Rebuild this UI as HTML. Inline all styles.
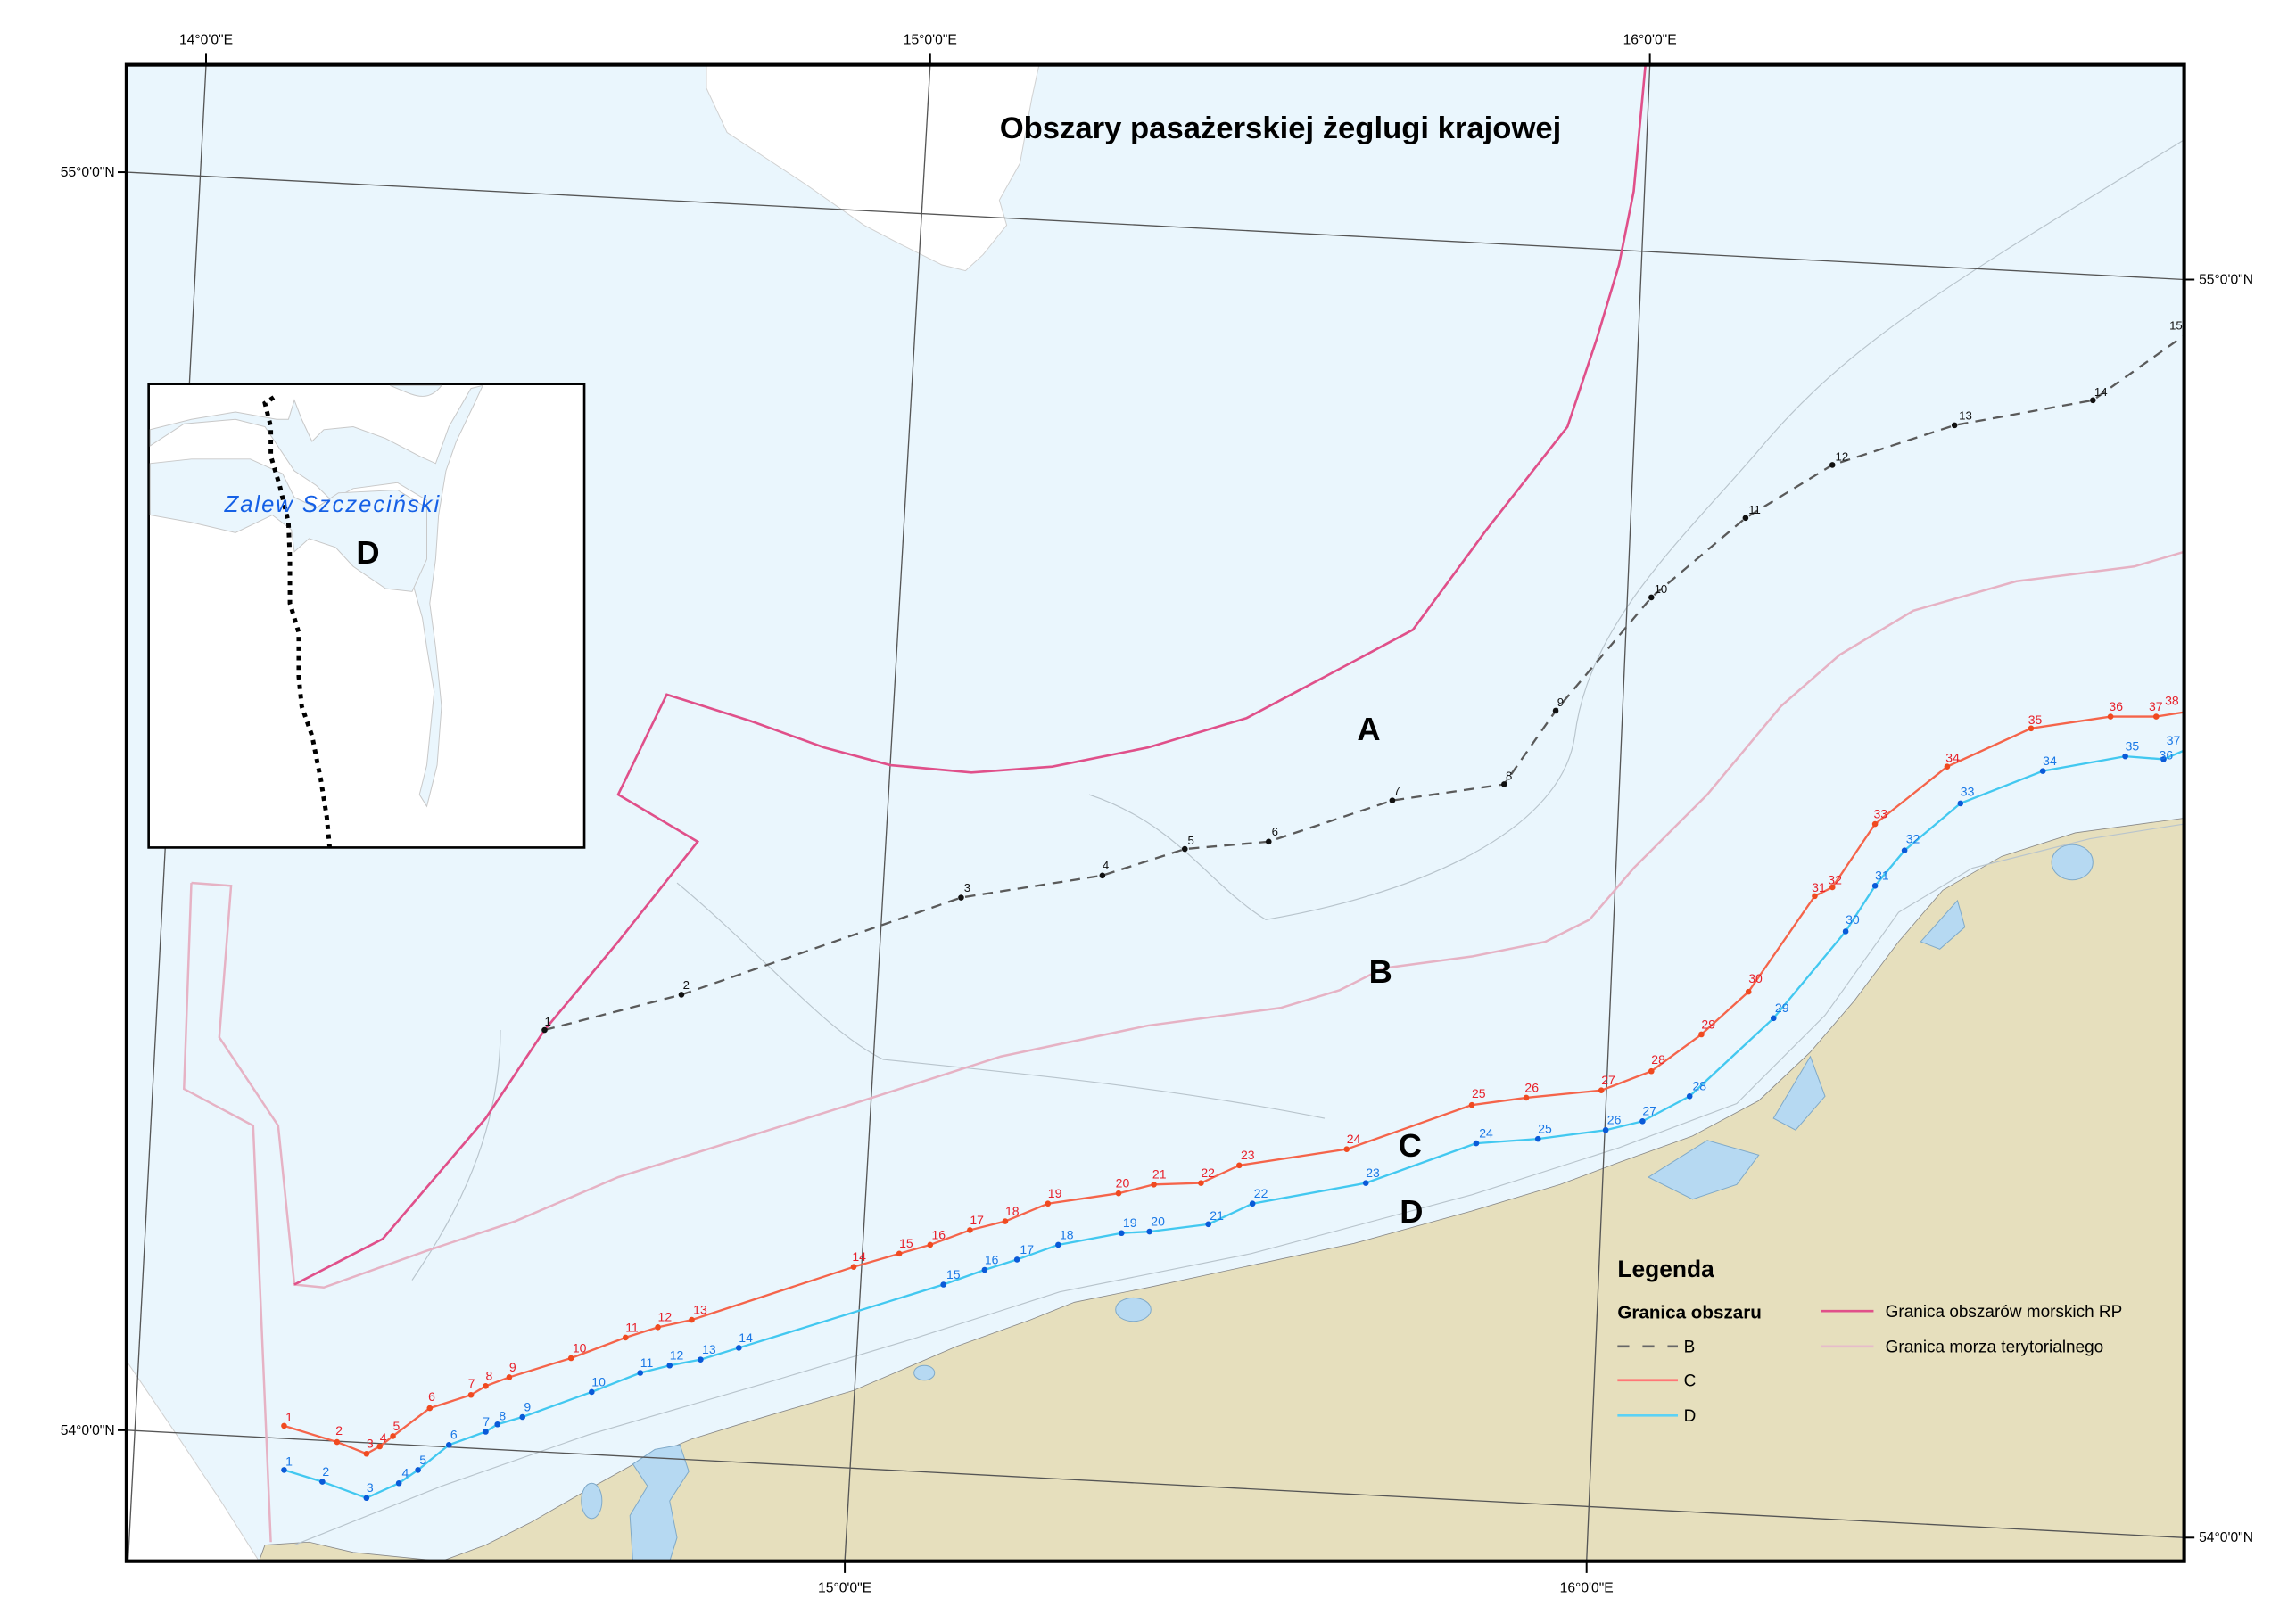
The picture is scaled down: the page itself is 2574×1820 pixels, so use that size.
<!DOCTYPE html>
<html><head><meta charset="utf-8"><style>
html,body{margin:0;padding:0;background:#fff;}
svg{display:block;}
text{font-family:"Liberation Sans",sans-serif;}
</style></head><body>
<svg width="2574" height="1820" viewBox="0 0 1560 1103" preserveAspectRatio="none" xmlns="http://www.w3.org/2000/svg">
<rect x="0" y="0" width="1560" height="1103" fill="#fff"/>
<rect x="86" y="44" width="1398" height="1017" fill="#eaf6fd"/>
<!-- white land top -->
<path d="M480,44 L706,44 L701,67 L693,111 L679,136 L684,153 L668,173 L656,184 L640,180 L610,165 L587,153 L547,125 L494,90 L480,60 Z" fill="#fff" stroke="#d0d0d0" stroke-width="0.6"/>
<!-- white land left bottom -->
<path d="M86,925 L120,975 L150,1020 L176,1061 L86,1061 Z" fill="#fff" stroke="#d0d0d0" stroke-width="0.6"/>
<!-- tan coast -->
<path d="M176,1061 L180,1050 L210,1048 L240,1055 L300,1061 L330,1050 L360,1035 L400,1012 L436,992 L470,978 L509,966 L580,945 L650,915 L700,897 L730,885 L780,875 L850,860 L920,845 L1000,823 L1060,805 L1100,790 L1150,772 L1195,748 L1230,715 L1260,680 L1290,640 L1320,605 L1360,582 L1410,566 L1484,556 L1484,1061 Z" fill="#e6dfbd" stroke="#888" stroke-width="0.5"/>
<!-- lakes -->
<g fill="#b6d9f2" stroke="#7fa9c8" stroke-width="0.6">
<path d="M430,1061 L428,1030 L440,1010 L430,995 L445,985 L462,982 L468,1000 L455,1020 L460,1045 L455,1061 Z"/>
<ellipse cx="402" cy="1020" rx="7" ry="12"/>
<ellipse cx="770" cy="890" rx="12" ry="8"/><ellipse cx="628" cy="933" rx="7" ry="5"/>
<path d="M1120,800 L1160,775 L1195,785 L1180,805 L1150,815 Z"/>
<path d="M1205,760 L1230,718 L1240,745 L1220,768 Z"/>
<path d="M1305,640 L1330,612 L1335,630 L1318,645 Z"/>
<ellipse cx="1408" cy="586" rx="14" ry="12"/>
</g>
<!-- contour lines -->
<g fill="none" stroke="#b8c4cc" stroke-width="0.7">
<path d="M200,1050 L300,1010 L400,975 L520,940 L620,910 L720,878 L850,852 L1000,812 L1100,780 L1180,750 L1240,690 L1290,620 L1340,590 L1420,570 L1484,560"/>
<path d="M740,540 C800,560 820,600 860,625 C950,610 1060,570 1070,500 C1080,420 1150,360 1200,300 C1260,230 1330,190 1484,95"/>
<path d="M460,600 C520,650 560,700 600,720 C700,730 800,740 900,760"/>
<path d="M340,700 C340,780 300,840 280,870"/>
</g>
<!-- grid -->
<g stroke="#555" stroke-width="0.8" fill="none">
<line x1="140" y1="44" x2="87" y2="1061"/>
<line x1="632" y1="44" x2="574" y2="1061"/>
<line x1="1121" y1="44" x2="1078" y2="1061"/>
<line x1="86" y1="117" x2="1484" y2="190"/>
<line x1="86" y1="972" x2="1484" y2="1045"/>
</g>
<!-- territorial sea -->
<g fill="none" stroke="#e6b2c4" stroke-width="1.5">
<path d="M130,600 L157,602 L149,705 L189,765 L200,873 L220,875 L290,850 L350,830 L420,800 L500,775 L580,750 L680,718 L780,697 L870,685 L910,673 L940,658 L1000,650 L1050,640 L1080,625 L1110,590 L1160,540 L1210,480 L1250,445 L1300,415 L1370,395 L1450,385 L1484,375"/>
<path d="M130,600 L125,740 L172,765 L184,1048"/>
</g>
<!-- maritime boundary -->
<path d="M1118,44 L1110,130 L1100,180 L1085,230 L1065,290 L1010,360 L960,428 L900,460 L847,488 L780,508 L715,521 L660,525 L605,520 L560,508 L510,490 L453,472 L420,540 L474,572 L420,640 L370,700 L330,760 L260,842 L200,873" fill="none" stroke="#e0508a" stroke-width="1.6"/>
<!-- B -->
<polyline points="370,700 463,676 653,610 749,595 805,577 862,572 946,544 1022,533 1057,483 1122,406 1186,352 1245,316 1328,289 1422,272 1484,228" fill="none" stroke="#5a5a5a" stroke-width="1.4" stroke-dasharray="7,5"/>
<g fill="#111"><circle cx="370" cy="700" r="2"/><circle cx="463" cy="676" r="2"/><circle cx="653" cy="610" r="2"/><circle cx="749" cy="595" r="2"/><circle cx="805" cy="577" r="2"/><circle cx="862" cy="572" r="2"/><circle cx="946" cy="544" r="2"/><circle cx="1022" cy="533" r="2"/><circle cx="1057" cy="483" r="2"/><circle cx="1122" cy="406" r="2"/><circle cx="1186" cy="352" r="2"/><circle cx="1245" cy="316" r="2"/><circle cx="1328" cy="289" r="2"/><circle cx="1422" cy="272" r="2"/></g>
<g font-size="8" fill="#111"><text x="370" y="697">1</text><text x="464" y="672">2</text><text x="655" y="606">3</text><text x="749" y="591">4</text><text x="807" y="574">5</text><text x="864" y="568">6</text><text x="947" y="540">7</text><text x="1023" y="530">8</text><text x="1058" y="480">9</text><text x="1124" y="403">10</text><text x="1188" y="349">11</text><text x="1247" y="313">12</text><text x="1331" y="285">13</text><text x="1423" y="269">14</text><text x="1474" y="224">15</text></g>
<!-- C -->
<polyline points="193,969 229,980 249,988 258,983 267,976 292,957 320,948 330,942 346,936 388,923 425,909 447,902 470,897 580,861 611,852 632,846 659,836 683,830 712,818 760,811 784,805 816,804 842,792 915,781 1000,751 1037,746 1088,741 1122,728 1156,703 1188,674 1233,609 1245,603 1274,560 1323,521 1380,495 1434,487 1465,487 1484,484" fill="none" stroke="#f5644a" stroke-width="1.4"/>
<g fill="#f04a20"><circle cx="193" cy="969" r="2"/><circle cx="229" cy="980" r="2"/><circle cx="249" cy="988" r="2"/><circle cx="258" cy="983" r="2"/><circle cx="267" cy="976" r="2"/><circle cx="292" cy="957" r="2"/><circle cx="320" cy="948" r="2"/><circle cx="330" cy="942" r="2"/><circle cx="346" cy="936" r="2"/><circle cx="388" cy="923" r="2"/><circle cx="425" cy="909" r="2"/><circle cx="447" cy="902" r="2"/><circle cx="470" cy="897" r="2"/><circle cx="580" cy="861" r="2"/><circle cx="611" cy="852" r="2"/><circle cx="632" cy="846" r="2"/><circle cx="659" cy="836" r="2"/><circle cx="683" cy="830" r="2"/><circle cx="712" cy="818" r="2"/><circle cx="760" cy="811" r="2"/><circle cx="784" cy="805" r="2"/><circle cx="816" cy="804" r="2"/><circle cx="842" cy="792" r="2"/><circle cx="915" cy="781" r="2"/><circle cx="1000" cy="751" r="2"/><circle cx="1037" cy="746" r="2"/><circle cx="1088" cy="741" r="2"/><circle cx="1122" cy="728" r="2"/><circle cx="1156" cy="703" r="2"/><circle cx="1188" cy="674" r="2"/><circle cx="1233" cy="609" r="2"/><circle cx="1245" cy="603" r="2"/><circle cx="1274" cy="560" r="2"/><circle cx="1323" cy="521" r="2"/><circle cx="1380" cy="495" r="2"/><circle cx="1434" cy="487" r="2"/><circle cx="1465" cy="487" r="2"/></g>
<g font-size="8.5" fill="#e8202a"><text x="194" y="966">1</text><text x="228" y="975">2</text><text x="249" y="984">3</text><text x="258" y="980">4</text><text x="267" y="972">5</text><text x="291" y="952">6</text><text x="318" y="943">7</text><text x="330" y="938">8</text><text x="346" y="932">9</text><text x="389" y="919">10</text><text x="425" y="905">11</text><text x="447" y="898">12</text><text x="471" y="893">13</text><text x="579" y="857">14</text><text x="611" y="848">15</text><text x="633" y="842">16</text><text x="659" y="832">17</text><text x="683" y="826">18</text><text x="712" y="814">19</text><text x="758" y="807">20</text><text x="783" y="801">21</text><text x="816" y="800">22</text><text x="843" y="788">23</text><text x="915" y="777">24</text><text x="1000" y="746">25</text><text x="1036" y="742">26</text><text x="1088" y="737">27</text><text x="1122" y="723">28</text><text x="1156" y="699">29</text><text x="1188" y="668">30</text><text x="1231" y="606">31</text><text x="1242" y="601">32</text><text x="1273" y="556">33</text><text x="1322" y="518">34</text><text x="1378" y="492">35</text><text x="1433" y="483">36</text><text x="1460" y="483">37</text><text x="1471" y="479">38</text></g>
<!-- D -->
<polyline points="193,999 219,1007 249,1018 271,1008 284,999 305,982 330,973 338,968 355,963 402,946 435,933 455,928 476,924 502,916 641,873 669,863 691,856 719,846 762,838 781,837 821,832 851,818 928,804 1003,777 1045,774 1091,768 1116,762 1148,745 1205,692 1254,633 1274,602 1294,578 1332,546 1388,524 1444,514 1470,516 1484,510" fill="none" stroke="#42c8f0" stroke-width="1.4"/>
<g fill="#0a5ad8"><circle cx="193" cy="999" r="2"/><circle cx="219" cy="1007" r="2"/><circle cx="249" cy="1018" r="2"/><circle cx="271" cy="1008" r="2"/><circle cx="284" cy="999" r="2"/><circle cx="305" cy="982" r="2"/><circle cx="330" cy="973" r="2"/><circle cx="338" cy="968" r="2"/><circle cx="355" cy="963" r="2"/><circle cx="402" cy="946" r="2"/><circle cx="435" cy="933" r="2"/><circle cx="455" cy="928" r="2"/><circle cx="476" cy="924" r="2"/><circle cx="502" cy="916" r="2"/><circle cx="641" cy="873" r="2"/><circle cx="669" cy="863" r="2"/><circle cx="691" cy="856" r="2"/><circle cx="719" cy="846" r="2"/><circle cx="762" cy="838" r="2"/><circle cx="781" cy="837" r="2"/><circle cx="821" cy="832" r="2"/><circle cx="851" cy="818" r="2"/><circle cx="928" cy="804" r="2"/><circle cx="1003" cy="777" r="2"/><circle cx="1045" cy="774" r="2"/><circle cx="1091" cy="768" r="2"/><circle cx="1116" cy="762" r="2"/><circle cx="1148" cy="745" r="2"/><circle cx="1205" cy="692" r="2"/><circle cx="1254" cy="633" r="2"/><circle cx="1274" cy="602" r="2"/><circle cx="1294" cy="578" r="2"/><circle cx="1332" cy="546" r="2"/><circle cx="1388" cy="524" r="2"/><circle cx="1444" cy="514" r="2"/><circle cx="1470" cy="516" r="2"/></g>
<g font-size="8.5" fill="#1a78e6"><text x="194" y="996">1</text><text x="219" y="1003">2</text><text x="249" y="1014">3</text><text x="273" y="1004">4</text><text x="285" y="995">5</text><text x="306" y="978">6</text><text x="328" y="969">7</text><text x="339" y="965">8</text><text x="356" y="959">9</text><text x="402" y="942">10</text><text x="435" y="929">11</text><text x="455" y="924">12</text><text x="477" y="920">13</text><text x="502" y="912">14</text><text x="643" y="869">15</text><text x="669" y="859">16</text><text x="693" y="852">17</text><text x="720" y="842">18</text><text x="763" y="834">19</text><text x="782" y="833">20</text><text x="822" y="829">21</text><text x="852" y="814">22</text><text x="928" y="800">23</text><text x="1005" y="773">24</text><text x="1045" y="770">25</text><text x="1092" y="764">26</text><text x="1116" y="758">27</text><text x="1150" y="741">28</text><text x="1206" y="688">29</text><text x="1254" y="628">30</text><text x="1274" y="598">31</text><text x="1295" y="573">32</text><text x="1332" y="541">33</text><text x="1388" y="520">34</text><text x="1444" y="510">35</text><text x="1467" y="516">36</text><text x="1472" y="506">37</text></g>
<!-- area letters -->
<g font-size="22" font-weight="bold" fill="#000" text-anchor="middle">
<text x="930" y="503">A</text><text x="938" y="668">B</text><text x="958" y="786">C</text><text x="959" y="831">D</text></g>
<text x="870" y="94" font-size="21" font-weight="bold" text-anchor="middle">Obszary pasażerskiej żeglugi krajowej</text>
<!-- legend -->
<text x="1099" y="868" font-size="16" font-weight="bold">Legenda</text>
<text x="1099" y="896" font-size="12.5" font-weight="bold">Granica obszaru</text>
<line x1="1099" y1="915" x2="1140" y2="915" stroke="#666" stroke-width="1.6" stroke-dasharray="8,9"/>
<line x1="1099" y1="938" x2="1140" y2="938" stroke="#f77" stroke-width="1.6"/>
<line x1="1099" y1="962" x2="1140" y2="962" stroke="#5cd2f5" stroke-width="1.6"/>
<g font-size="11.5"><text x="1144" y="919">B</text><text x="1144" y="942">C</text><text x="1144" y="966">D</text>
<text x="1281" y="895">Granica obszarów morskich RP</text><text x="1281" y="919">Granica morza terytorialnego</text></g>
<line x1="1237" y1="891" x2="1273" y2="891" stroke="#e0508a" stroke-width="1.6"/>
<line x1="1237" y1="915" x2="1273" y2="915" stroke="#e6bccb" stroke-width="1.6"/>
<!-- inset -->
<rect x="101" y="261" width="296" height="315" fill="#fff" stroke="#000" stroke-width="1.6"/>
<g fill="#eaf6fd" stroke="#c8c8c8" stroke-width="0.6">
<path d="M265,262 C280,268 290,275 300,262 Z"/>
<path d="M102,303 L125,288 L160,285 L180,290 L190,305 L200,320 L215,330 L225,340 L240,332 L270,328 L290,340 L290,370 L280,395 L287,420 L290,440 L295,470 L292,500 L290,520 L285,540 L290,548 L297,520 L300,480 L296,440 L292,410 L296,380 L298,350 L303,320 L310,300 L322,275 L328,262 L320,264 L305,290 L296,315 L285,310 L262,298 L240,290 L220,292 L212,300 L205,285 L200,272 L196,285 L188,285 L160,280 L130,285 L102,292 Z"/>
<path d="M102,315 L102,350 L130,355 L160,362 L185,350 L198,360 L200,375 L210,366 L228,372 L240,385 L262,400 L280,402 L290,380 L290,345 L270,333 L230,335 L215,345 L200,338 L192,322 L170,312 L130,312 Z"/>
</g>
<polyline points="186,270 180,274 184,290 184,310 190,330 196,355 197,380 197,410 203,430 203,460 205,480 212,500 218,530 222,555 224,576" fill="none" stroke="#000" stroke-width="3" stroke-dasharray="3,3.5"/>
<text x="226" y="348" font-size="15.5" font-style="italic" fill="#1560e6" text-anchor="middle" letter-spacing="1.2">Zalew Szczeciński</text>
<text x="250" y="383" font-size="22" font-weight="bold" text-anchor="middle">D</text>
<!-- frame -->
<rect x="86" y="44" width="1398" height="1017" fill="none" stroke="#000" stroke-width="2.5"/>
<!-- coordinate labels -->
<g font-size="9.5" fill="#000">
<text x="140" y="30" text-anchor="middle">14°0'0"E</text>
<text x="632" y="30" text-anchor="middle">15°0'0"E</text>
<text x="1121" y="30" text-anchor="middle">16°0'0"E</text>
<text x="574" y="1082" text-anchor="middle">15°0'0"E</text>
<text x="1078" y="1082" text-anchor="middle">16°0'0"E</text>
<text x="78" y="120" text-anchor="end">55°0'0"N</text>
<text x="78" y="975" text-anchor="end">54°0'0"N</text>
<text x="1494" y="193">55°0'0"N</text>
<text x="1494" y="1048">54°0'0"N</text>
</g>
<g stroke="#000" stroke-width="1.2">
<line x1="140" y1="36" x2="140" y2="44"/><line x1="632" y1="36" x2="632" y2="44"/><line x1="1121" y1="36" x2="1121" y2="44"/>
<line x1="574" y1="1061" x2="574" y2="1069"/><line x1="1078" y1="1061" x2="1078" y2="1069"/>
<line x1="80" y1="117" x2="86" y2="117"/><line x1="80" y1="972" x2="86" y2="972"/>
<line x1="1484" y1="190" x2="1491" y2="190"/><line x1="1484" y1="1045" x2="1491" y2="1045"/>
</g>
</svg>
</body></html>
